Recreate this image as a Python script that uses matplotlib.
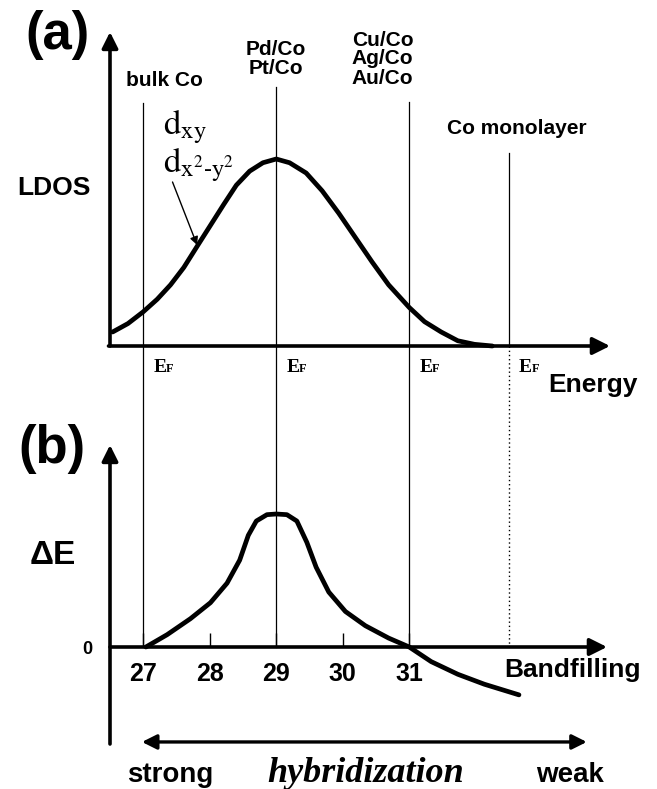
import matplotlib
matplotlib.use("Agg")
import matplotlib.pyplot as plt
from matplotlib.transforms import blended_transform_factory
import matplotlib.transforms as mtransforms

# ---------------- data ----------------
# panel (a): LDOS of d_xy / d_x2-y2 band vs. energy (plotted on bandfilling scale)
ldos_x = [26.54, 26.77, 27.00, 27.21, 27.41, 27.61, 27.81, 28.01, 28.21, 28.40,
          28.60, 28.80, 29.00, 29.20, 29.45, 29.69, 29.94, 30.19, 30.44, 30.69,
          31.00, 31.23, 31.48, 31.73, 31.98, 32.25]
ldos_y = [0.075, 0.12, 0.183, 0.25, 0.327, 0.42, 0.533, 0.645, 0.757, 0.86,
          0.935, 0.98, 1.00, 0.98, 0.925, 0.83, 0.71, 0.58, 0.45, 0.327,
          0.206, 0.13, 0.075, 0.028, 0.009, 0.0]

# panel (b): Delta E vs. bandfilling
band_x = [27.04, 27.36, 27.71, 28.01, 28.26, 28.45, 28.58, 28.70, 28.86, 29.00,
          29.16, 29.31, 29.46, 29.60, 29.79, 30.04, 30.34, 30.69, 31.00, 31.33,
          31.73, 32.13, 32.65]
dE_y = [0.0, 0.093, 0.213, 0.333, 0.48, 0.653, 0.84, 0.947, 0.995, 1.0,
        0.995, 0.947, 0.787, 0.60, 0.413, 0.267, 0.16, 0.067, 0.0, -0.11,
        -0.205, -0.28, -0.36]

xticks = [27, 28, 29, 30, 31]
xtick_labels = ["27", "28", "29", "30", "31"]

# Fermi levels of the systems
ef_pos = [27.0, 29.0, 31.0, 32.5]
ef_names = ["bulk Co", "Pd/Co\nPt/Co", "Cu/Co\nAg/Co\nAu/Co", "Co monolayer"]

# ---------------- figure ----------------
W, H = 657, 789
fig = plt.figure(figsize=(W / 100, H / 100), dpi=100)
plt.rcParams['font.family'] = ['Liberation Sans', 'DejaVu Sans']
plt.rcParams['mathtext.fontset'] = 'stix'

def fy(py):
    return 1 - py / H

def fx(px):
    return px / W

X0, X1 = 26.5, 26.5 + 500 / 66.5

# panel (a) axes: x 110..610 px, y 346 (0) .. 32 px
ax_a = fig.add_axes([fx(110), fy(346), 500 / W, (346 - 32) / H])
ax_a.set_xlim(X0, X1)
ax_a.set_ylim(0, 314 / 187)
ax_a.axis('off')

# panel (b) axes: x 110..610, y 744 .. 445 px, zero at 647
ax_b = fig.add_axes([fx(110), fy(744), 500 / W, (744 - 445) / H])
ax_b.set_xlim(X0, X1)
ax_b.set_ylim((647 - 744) / 133, (647 - 445) / 133)
for s in ['top', 'right', 'left']:
    ax_b.spines[s].set_visible(False)
ax_b.spines['bottom'].set_position(('data', 0))
ax_b.spines['bottom'].set_color('none')
ax_b.set_xticks(xticks)
ax_b.set_xticklabels(xtick_labels, fontsize=18, fontweight='bold')
ax_b.tick_params(axis='x', direction='in', length=10, width=1, pad=11)
ax_b.set_yticks([0])
ax_b.set_yticklabels(["0"], fontsize=13, fontweight='bold')
ax_b.tick_params(axis='y', length=0, pad=13)
ax_b.patch.set_visible(False)
ax_a.patch.set_visible(False)

arrow_kw = dict(arrowstyle='-|>', lw=2.6, color='k', mutation_scale=26,
                shrinkA=0, shrinkB=0)

# axes of (a)
ax_a.annotate('', xy=(0, 1), xytext=(0, 0), xycoords='axes fraction',
              arrowprops=dict(arrow_kw, mutation_scale=24))
ax_a.annotate('', xy=(1, 0), xytext=(-0.003, 0), xycoords='axes fraction',
              arrowprops=arrow_kw)
# axes of (b)
ax_b.annotate('', xy=(0, 1), xytext=(0, 0), xycoords='axes fraction',
              arrowprops=dict(arrow_kw, mutation_scale=24))
ax_b.annotate('', xy=(0.994, 0), xytext=(0, 0), xycoords=('axes fraction', 'data'),
              arrowprops=arrow_kw)

# curves
ax_a.plot(ldos_x, ldos_y, color='k', lw=3.4, solid_joinstyle='round',
          solid_capstyle='round', clip_on=False)
ax_b.plot(band_x, dE_y, color='k', lw=3.4, solid_joinstyle='round',
          solid_capstyle='round', clip_on=False)

# vertical Fermi-level lines through both panels
tr = blended_transform_factory(ax_b.transData, fig.transFigure)
tops = [103, 87, 102, 153]
for x, top in zip(ef_pos[:3], tops[:3]):
    ax_b.plot([x, x], [fy(top), fy(647)], transform=tr, color='k', lw=0.9,
              clip_on=False)
ax_b.plot([ef_pos[3]] * 2, [fy(tops[3]), fy(346)], transform=tr, color='k',
          lw=0.9, clip_on=False)
ax_b.plot([ef_pos[3]] * 2, [fy(346), fy(647)], transform=tr, color='k',
          lw=1.0, ls=(0, (1, 2)), clip_on=False)

# labels of lines
label_y = [80, 59, 59, 128]
label_dx = [0.32, 0.0, -0.4, 0.12]
for x, name, ly, dx in zip(ef_pos, ef_names, label_y, label_dx):
    ax_b.text(x + dx, fy(ly), name, transform=tr, ha='center', va='center',
              fontsize=15, fontweight='bold', linespacing=1.0)

# E_F labels
for x in ef_pos:
    t1 = mtransforms.offset_copy(tr, fig=fig, x=10 * 0.72, y=0, units='points')
    ax_b.text(x, fy(372), "E", transform=t1, ha='left', va='baseline',
              fontsize=14, fontweight='bold', family='Liberation Serif')
    t2 = mtransforms.offset_copy(tr, fig=fig, x=23 * 0.72, y=0, units='points')
    ax_b.text(x, fy(372), "F", transform=t2, ha='left', va='baseline',
              fontsize=9, fontweight='bold', family='Liberation Serif')

# orbital labels and arrow
ax_a.text(27.3, fy(127), r'$\mathrm{d}_{\mathrm{xy}}$', transform=tr,
          ha='left', va='center', fontsize=25)
ax_a.text(27.3, fy(165), r'$\mathrm{d}_{\mathrm{x}^{2}\text{-}\mathrm{y}^{2}}$',
          transform=tr, ha='left', va='center', fontsize=25)
ax_a.annotate('', xy=(27.81, 0.54), xytext=(27.44, 0.877), xycoords='data',
              arrowprops=dict(arrowstyle='-|>', lw=1.0, color='k',
                              mutation_scale=12, shrinkA=0, shrinkB=0))

# hybridization arrow
ax_b.annotate('', xy=(26.98, -0.714), xytext=(33.67, -0.714), xycoords='data',
              arrowprops=dict(arrowstyle='<|-|>', lw=2.4, color='k',
                              mutation_scale=22, shrinkA=0, shrinkB=0))

# free text
fig.text(fx(58), fy(35), "(a)", ha='center', va='center', fontsize=38,
         fontweight='bold')
fig.text(fx(52), fy(449), "(b)", ha='center', va='center', fontsize=38,
         fontweight='bold')
fig.text(fx(54), fy(188), "LDOS", ha='center', va='center', fontsize=19,
         fontweight='bold')
fig.text(fx(53), fy(555), "ΔE", ha='center', va='center', fontsize=24,
         fontweight='bold')
fig.text(fx(593), fy(385), "Energy", ha='center', va='center', fontsize=19,
         fontweight='bold')
fig.text(fx(573), fy(670), "Bandfilling", ha='center', va='center', fontsize=19,
         fontweight='bold')
fig.text(fx(170), fy(782), "strong", ha='center', va='baseline', fontsize=20,
         fontweight='bold')
fig.text(fx(570), fy(782), "weak", ha='center', va='baseline', fontsize=20,
         fontweight='bold')
fig.text(fx(366), fy(782), "hybridization", ha='center', va='baseline',
         fontsize=26, style='italic', fontweight='bold', family='Liberation Serif')

fig.savefig("out.png", dpi=100)
